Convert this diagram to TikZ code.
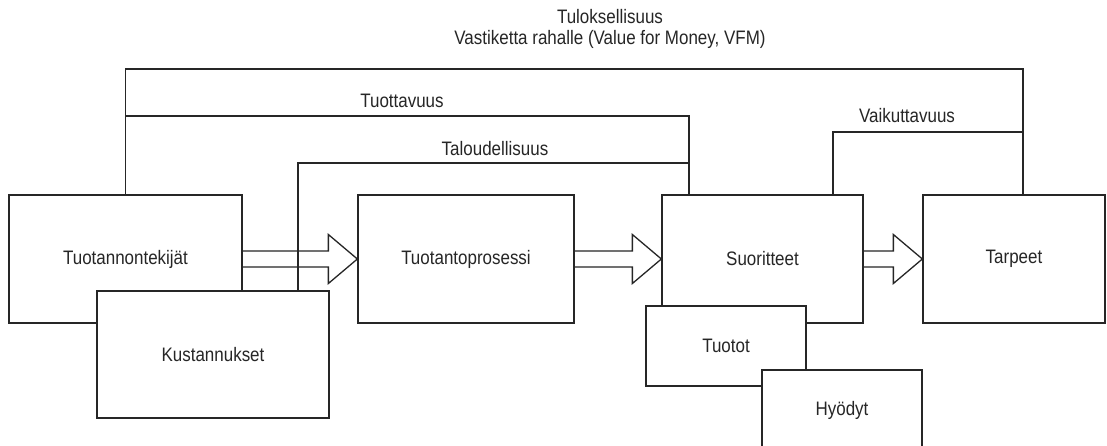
\documentclass[tikz,border=0pt]{standalone}
\usepackage{fontspec}
\setmainfont[FakeStretch=0.87]{Liberation Sans}
\usetikzlibrary{calc}
\definecolor{ink}{HTML}{262626}
\tikzset{
  box/.style={draw=ink, line width=1.3pt, fill=white, rectangle, inner sep=0pt,
    font=\fontsize{19.5}{21}\selectfont, text=ink},
  lbl/.style={font=\fontsize{19.5}{21}\selectfont, text=ink, inner sep=0pt, align=center},
  conn/.style={draw=ink, line width=1.3pt},
  fatarrow/.style={draw=ink, line width=1.3pt, line join=miter}
}
\begin{document}
\begin{tikzpicture}[x=1pt,y=-1pt]
\useasboundingbox (0,0) rectangle (1107,445);
\clip (0,0) rectangle (1107,445);
\fill[white] (0,0) rectangle (1107,445);
% boxes
\node[box, minimum width=233pt, minimum height=128pt] (tek) at (125.5,259) {Tuotannontekijät};
\node[box, minimum width=232pt, minimum height=127pt] (kus) at (213,354.5) {Kustannukset};
\node[box, minimum width=216pt, minimum height=128pt] (pro) at (466,259) {Tuotantoprosessi};
\node[box, minimum width=201pt, minimum height=128pt] (suo) at (762.5,259) {Suoritteet};
\node[box, minimum width=160pt, minimum height=80pt] (tuo) at (726,346) {Tuotot};
\node[box, minimum width=160pt, minimum height=80pt] (hyo) at (842,410) {Hyödyt};
\node[box, minimum width=182pt, minimum height=128pt] (tar) at (1014,259) {Tarpeet};
% fat arrows
\foreach \a/\b in {tek/pro, pro/suo, suo/tar}{
  \draw[fatarrow] let \p1=(\a.east), \p2=(\b.west) in
    (\x1,\y1+8pt) -- (\x2-29pt,\y1+8pt) -- (\x2-29pt,\y1+24.5pt) -- (\x2,\y2)
    -- (\x2-29pt,\y1-24.5pt) -- (\x2-29pt,\y1-8pt) -- (\x1,\y1-8pt);
}
% coordinates for connector corners
\coordinate (c1) at (1023,69);
\coordinate (c2) at (689,116);
\coordinate (c3) at (298,163);
\coordinate (c4) at (833,132);
% connectors
\draw[conn] (tek.north) |- (c1) -- ([xshift=9pt]tar.north);
\draw[conn] (tek.north |- c2) -- (c2) -- ([xshift=-73.5pt]suo.north);
\draw[conn] ([xshift=85pt]kus.north) -- (c3) -- (c2 |- c3);
\draw[conn] ([xshift=70.5pt]suo.north) -- (c4) -- (c1 |- c4);
% labels
\node[lbl] (l1) at (610,28.5) {Tuloksellisuus\\Vastiketta rahalle (Value for Money, VFM)};
\node[lbl] (l2) at (402,101) {Tuottavuus};
\node[lbl] (l3) at (495,149) {Taloudellisuus};
\node[lbl] (l4) at (907,116) {Vaikuttavuus};
\end{tikzpicture}
\end{document}
